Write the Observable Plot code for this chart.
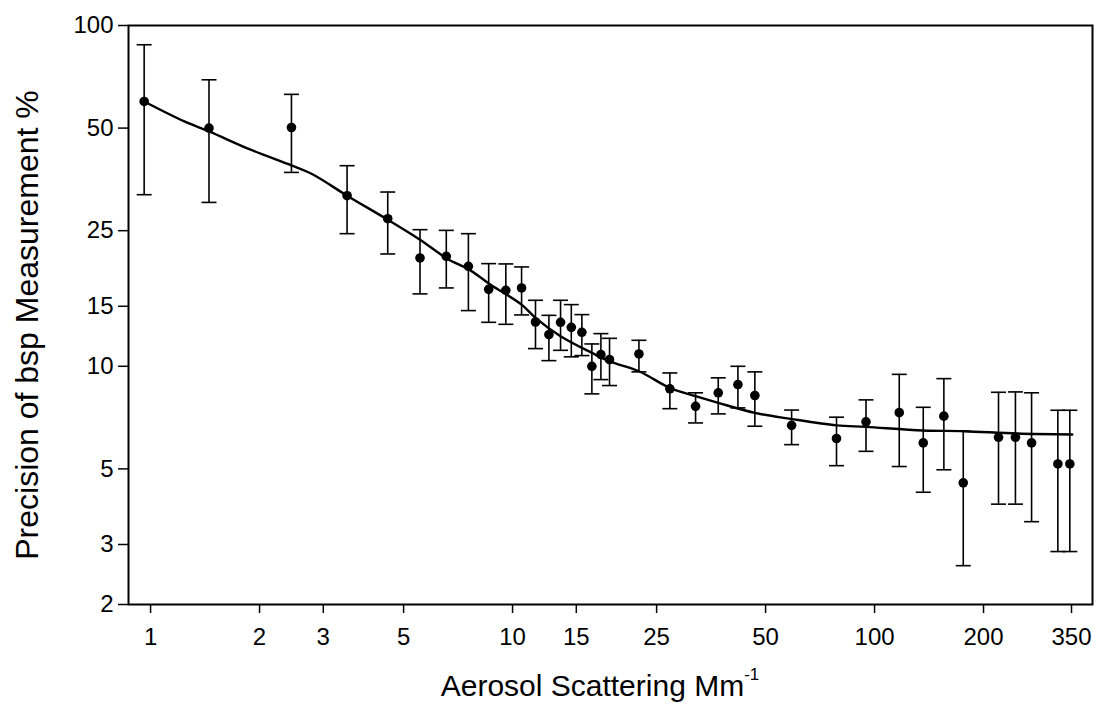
<!DOCTYPE html>
<html><head><meta charset="utf-8">
<script src="https://cdn.jsdelivr.net/npm/d3@7"></script>
<script src="https://cdn.jsdelivr.net/npm/@observablehq/plot@0.6"></script>
<style>
body{margin:0;background:#fff;font-family:"Liberation Sans",Arial,Helvetica,sans-serif;overflow:hidden;}
#wrap{position:relative;width:1095px;height:707px;}
#xtitle{position:absolute;left:350px;width:500px;top:671px;text-align:center;font-size:30px;color:#000;line-height:1;}
#xtitle sup{font-size:17px;position:relative;top:-5px;}
</style></head><body>
<div id="wrap"><div id="chart"></div><div id="xtitle">Aerosol Scattering Mm<sup>-1</sup></div></div>
<script>
// Aerosol scattering (Mm^-1) bin values
const scatX = [0.96,1.45,2.45,3.49,4.52,5.55,6.56,7.55,8.59,9.58,10.59,11.57,12.6,13.57,14.53,15.54,16.56,17.54,18.53,22.34,27.2,32.03,37.0,41.93,46.7,59.0,78.5,94.7,117,136.3,155.4,175.8,220,245,271.5,320.9,346.3];
// Precision of bsp measurement (%)
const precision = [59.85,50.0,50.2,31.67,27.11,20.79,21.01,19.65,16.82,16.71,16.98,13.49,12.39,13.46,13.01,12.58,10.0,10.82,10.46,10.87,8.59,7.63,8.36,8.84,8.21,6.71,6.14,6.87,7.31,5.96,7.14,4.55,6.19,6.19,5.96,5.17,5.17];
const errHi = [87.8,69.3,62.8,38.78,32.46,25.17,25.05,24.5,20.01,19.97,19.57,15.62,14.11,15.62,15.17,14.18,11.63,12.47,12.08,11.92,9.56,8.36,9.25,10.0,9.63,7.44,7.09,7.97,9.47,7.58,9.2,6.45,8.39,8.41,8.36,7.43,7.43];
const errLo = [31.88,30.26,37.06,24.5,21.36,16.31,16.98,14.57,13.46,13.28,14.15,11.27,10.39,11.14,10.66,10.75,8.3,9.14,8.78,9.63,7.51,6.82,7.25,7.55,6.67,5.89,5.11,5.63,5.08,4.27,4.97,2.6,3.94,3.94,3.5,2.86,2.86];
// Fitted curve
const fitX = [0.96,1.24,1.45,1.89,2.45,2.8,3.49,4.52,5.55,6.6,7.55,8.7,10.59,11.57,13.57,16.56,18.53,22.34,27.2,32.03,37.0,46.7,58.7,78.5,94.7,136.3,176.5,247.9,351.7];
const fitY = [59.85,52.3,48.9,43.2,38.85,36.6,31.67,26.93,23.52,20.69,19.28,17.36,15.17,13.87,12.25,10.95,10.34,9.67,8.64,8.17,7.81,7.3,7.01,6.71,6.64,6.48,6.45,6.35,6.31];
// Tick labels
const xTicks = [1,2,3,5,10,15,25,50,100,200,350];
const yTicks = [2,3,5,10,15,25,50,100];
const yTitle = "Precision of bsp Measurement %";

const pts = scatX.map((x, i) => ({x, y: precision[i], hi: errHi[i], lo: errLo[i]}));
const fit = fitX.map((x, i) => ({x, y: fitY[i]}));

const capSymbol = {
  draw(context, size) {
    const w = Math.sqrt(size / Math.PI);
    context.moveTo(-w, 0);
    context.lineTo(w, 0);
  }
};

const font = '"Liberation Sans", Arial, Helvetica, sans-serif';
const chart = Plot.plot({
  width: 1095,
  height: 650,
  marginLeft: 128,
  marginRight: 3,
  marginTop: 25,
  marginBottom: 46,
  style: {fontFamily: font, fontSize: "24px", color: "#000", background: "#fff", overflow: "visible"},
  x: {type: "log", domain: [0.869, 400]},
  y: {type: "log", domain: [2, 100]},
  marks: [
    Plot.axisX({ticks: xTicks, tickSize: 9, strokeWidth: 1.5, fill: "none", label: null}),
    Plot.text(xTicks, {x: d => d, text: d => String(d), frameAnchor: "bottom", lineAnchor: "top", dy: 23, fontSize: 24, fill: "#000"}),
    Plot.axisY({ticks: yTicks, tickFormat: d => String(d), tickSize: 10, tickPadding: 5, strokeWidth: 1.5, fontSize: 24, label: null}),
    Plot.frame({stroke: "#000", strokeWidth: 2}),
    Plot.line(fit, {x: "x", y: "y", curve: "catmull-rom", stroke: "#000", strokeWidth: 2.4}),
    Plot.ruleX(pts, {x: "x", y1: "lo", y2: "hi", stroke: "#000", strokeWidth: 1.6}),
    Plot.dot(pts, {x: "x", y: "hi", symbol: capSymbol, r: 7.5, stroke: "#000", strokeWidth: 1.6, fill: "none"}),
    Plot.dot(pts, {x: "x", y: "lo", symbol: capSymbol, r: 7.5, stroke: "#000", strokeWidth: 1.6, fill: "none"}),
    Plot.dot(pts, {x: "x", y: "y", r: 4.8, fill: "#000", stroke: "none"}),
    Plot.text([yTitle], {frameAnchor: "left", textAnchor: "middle", rotate: -90, dx: -101, dy: 10, fontSize: 32, fill: "#000"})
  ]
});
document.getElementById("chart").appendChild(chart);
</script>
</body></html>
